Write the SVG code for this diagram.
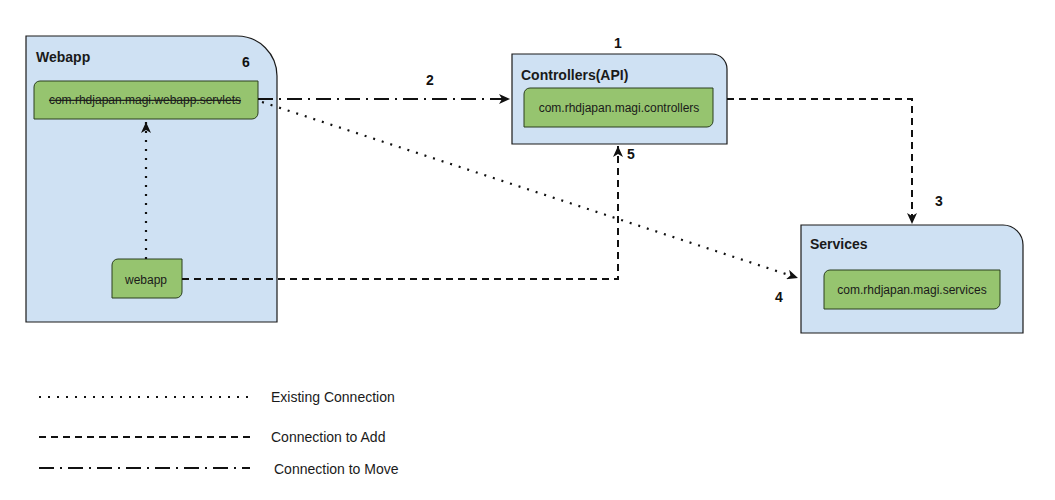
<svg xmlns="http://www.w3.org/2000/svg" width="1055" height="500" viewBox="0 0 1055 500">
<style>
.cont{fill:#cfe1f3;stroke:#1a1a1a;stroke-width:1.2}
.pkg{fill:#96c46f;stroke:#2b3f1f;stroke-width:1}
.t{font-family:"Liberation Sans",Arial,sans-serif;fill:#1a1a1a}
.title{font-size:14px;font-weight:bold}
.pt{font-size:12px;text-anchor:middle}
.num{font-family:"Liberation Sans",Arial,sans-serif;font-size:14px;font-weight:bold;fill:#111}
.leg{font-family:"Liberation Sans",Arial,sans-serif;font-size:14px;fill:#1a1a1a}
.c{fill:none;stroke:#111;stroke-width:2}
.dot{stroke-dasharray:2 7;stroke-width:2.2}
.dash{stroke-dasharray:7 5}
.dd{stroke-dasharray:15 6 2 6}
</style>
<defs>
<marker id="arr" viewBox="0 0 12 10" refX="11" refY="5" markerWidth="12" markerHeight="10" markerUnits="userSpaceOnUse" orient="auto">
<path d="M0,0 L11,5 L0,10 L3,5 Z" fill="#111"/>
</marker>
</defs>
<rect width="1055" height="500" fill="#ffffff"/>

<g id="webapp-container">
<path class="cont" d="M26,36 H237 A40,40 0 0 1 277,76 V322 H26 Z"/>
<text class="t title" x="36" y="62">Webapp</text>
<text class="num" x="242" y="67">6</text>
</g>
<g id="servlets">
<path class="pkg" d="M40,81 H258 V113 A6,6 0 0 1 252,119 H34 V87 A6,6 0 0 1 40,81 Z"/>
<text class="t pt" x="145" y="104" text-decoration="line-through">com.rhdjapan.magi.webapp.servlets</text>
</g>
<g id="webapp">
<path class="pkg" d="M118,259 H182 V292 A6,6 0 0 1 176,298 H112 V265 A6,6 0 0 1 118,259 Z"/>
<text class="t pt" x="146" y="284">webapp</text>
</g>

<g id="controllers-container">
<path class="cont" d="M512,54 H712 A15,15 0 0 1 727,69 V144 H512 Z"/>
<text class="t title" x="521" y="80">Controllers(API)</text>
<text class="num" x="614" y="48">1</text>
</g>
<g id="controllers">
<path class="pkg" d="M530,88 H713 V121 A6,6 0 0 1 707,127 H524 V94 A6,6 0 0 1 530,88 Z"/>
<text class="t pt" x="619" y="112">com.rhdjapan.magi.controllers</text>
</g>

<g id="services-container">
<path class="cont" d="M801,225 H1003 A20,20 0 0 1 1023,245 V333 H801 Z"/>
<text class="t title" x="810" y="249">Services</text>
</g>
<g id="services">
<path class="pkg" d="M830,270 H1000 V303 A6,6 0 0 1 994,309 H824 V276 A6,6 0 0 1 830,270 Z"/>
<text class="t pt" x="912" y="294">com.rhdjapan.magi.services</text>
</g>

<g id="connectors">
<path class="c dd" d="M258,99 H510" marker-end="url(#arr)"/>
<path class="c dash" d="M727,99 H912 V224" marker-end="url(#arr)"/>
<path class="c dot" d="M262,102 L798,278" marker-end="url(#arr)"/>
<path class="c dash" d="M182,279 H618 V146" marker-end="url(#arr)"/>
<path class="c dot" d="M146,259 V122" marker-end="url(#arr)"/>
</g>

<g id="labels">
<text class="num" x="426" y="85">2</text>
<text class="num" x="935" y="206">3</text>
<text class="num" x="775" y="302">4</text>
<text class="num" x="627" y="159">5</text>
</g>

<g id="legend">
<path class="c dot" d="M39,397 H250"/>
<text class="leg" x="271" y="402">Existing Connection</text>
<path class="c dash" d="M39,437 H250"/>
<text class="leg" x="271" y="442">Connection to Add</text>
<path class="c dd" d="M39,468 H250"/>
<text class="leg" x="274" y="474">Connection to Move</text>
</g>
</svg>
